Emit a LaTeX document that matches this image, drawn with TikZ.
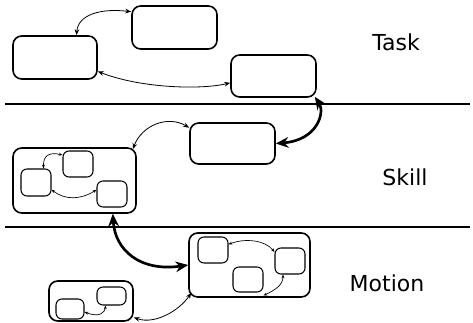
\documentclass[tikz,border=0pt]{standalone}
\usepackage{fontspec}
\setmainfont{DejaVu Sans}
\usetikzlibrary{arrows.meta}
\begin{document}
\begin{tikzpicture}[x=0.75pt,y=-0.75pt,
  sz/.style 2 args={minimum width={#1*0.75pt},minimum height={#2*0.75pt}},
  state/.style={draw,line width=1.2pt,rounded corners=6.5pt,inner sep=0pt},
  sub/.style={draw,line width=0.8pt,rounded corners=4.5pt,inner sep=0pt},
  link/.style={line width=0.6pt,{Stealth[length=4.5pt,width=3.5pt]}-{Stealth[length=4.5pt,width=3.5pt]}},
  sublink/.style={line width=0.5pt,{Stealth[length=2.8pt,width=2.2pt]}-{Stealth[length=2.8pt,width=2.2pt]}},
  bond/.style={line width=2pt,{Stealth[length=9.5pt,width=8pt]}-{Stealth[length=9.5pt,width=8pt]}},
  divider/.style={line width=1pt},
  level/.style={anchor=base,font=\fontsize{16.5}{20}\selectfont}]
\useasboundingbox (0,0) rectangle (473,323);

% level separators
\coordinate (l1a) at (5,104);  \coordinate (l1b) at (470,104);
\coordinate (l2a) at (5,227);  \coordinate (l2b) at (470,227);
\draw[divider] (l1a) -- (l1b);
\draw[divider] (l2a) -- (l2b);

% level labels
\node[level] (task)   at (396,51)  {Task};
\node[level] (skill)  at (405,186) {Skill};
\node[level] (motion) at (387,291) {Motion};

% task level
\node[state,sz={84}{43}] (A) at (55,57.5) {};
\node[state,sz={85}{43}] (B) at (174.5,27.5) {};
\node[state,sz={85}{42}] (C) at (273.5,76) {};

% skill level
\node[state,sz={85}{41}] (D) at (232.5,143.5) {};
\node[state,sz={123}{65}] (E) at (74.5,180.5) {};
\node[sub,sz={30}{27}] (e1) at (36,182.5) {};
\node[sub,sz={30}{26}] (e2) at (78,164) {};
\node[sub,sz={30}{26}] (e3) at (112,194) {};

% motion level
\node[state,sz={121}{64}] (F) at (249.5,265) {};
\node[sub,sz={30}{26}] (f1) at (213,250) {};
\node[sub,sz={30}{26}] (f2) at (290,261) {};
\node[sub,sz={30}{25}] (f3) at (248,279.5) {};
\node[state,sz={84}{40}] (G) at (91,301) {};
\node[sub,sz={28}{20}] (g1) at (70,309) {};
\node[sub,sz={29}{18}] (g2) at (111.5,296) {};

% connections within levels
\draw[link] (A.46) .. controls (78,15) and (100,8) .. (B.160);
\draw[link] (A.-18) .. controls (140,88) and (200,90) .. (C.189);
\draw[link] (D.160) .. controls (168,115) and (142,125) .. ([shift={(-4,2)}]E.north east);
\draw[link] (G.-21) .. controls (155,325) and (180,310) .. ([shift={(3,-5)}]F.south west);

% connections inside composite states
\draw[sublink] (e1.north east) ++(-8,0) coordinate (e1t) (e1t) .. controls (43,155) and (50,152) .. (e2.150);
\draw[sublink] (e1.-25) .. controls (65,200) and (80,200) .. (e3.165);
\draw[sublink] (f1.20) .. controls (245,238) and (265,240) .. (f2.150);
\draw[sublink] ([xshift={-7*0.75pt}]f2.south) .. controls (283,285) and (275,290) .. ([yshift={-3*0.75pt}]f3.south east);
\draw[sublink] ([yshift={-3*0.75pt}]g1.east) .. controls (100,318) and (105,312) .. ([xshift={-6*0.75pt}]g2.south);

% connections between levels
\draw[bond] ([shift={(-2,-1)}]C.south east) .. controls (325,112) and (318,140) .. (D.east);
\draw[bond] (E.-41) .. controls (115,250) and (140,272) .. (F.west);
\end{tikzpicture}
\end{document}
